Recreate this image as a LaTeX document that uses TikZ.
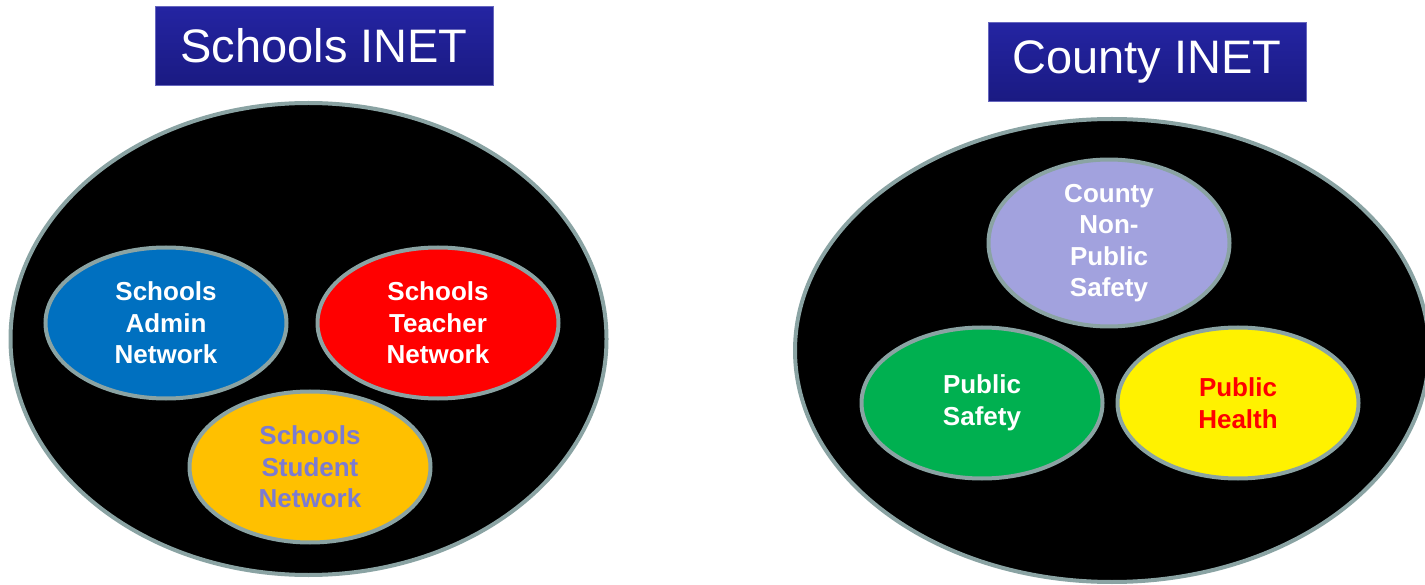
\documentclass[tikz,border=0pt]{standalone}
\usepackage{fontspec}
\setmainfont{Liberation Sans}
\usetikzlibrary{shapes.geometric}
\definecolor{rim}{HTML}{8AA3A3}
\definecolor{titletop}{HTML}{2424A2}
\definecolor{titlebot}{HTML}{1A1A82}
\definecolor{adminblue}{HTML}{0070C0}
\definecolor{studentgold}{HTML}{FFC000}
\definecolor{studenttext}{HTML}{7B7BD2}
\definecolor{lavender}{HTML}{A2A2DE}
\definecolor{safegreen}{HTML}{00B050}
\tikzset{
  outer/.style={ellipse, draw=rim, line width=4pt, fill=black, inner sep=0pt},
  inner/.style={ellipse, draw=rim, line width=4pt, inner sep=0pt,
    minimum width=241pt, minimum height=151pt, align=center,
    font=\fontsize{26}{31.5}\selectfont\bfseries},
  titlebox/.style={rectangle, draw=titletop!70!white, line width=0.8pt,
    top color=titletop, bottom color=titlebot, text=white, inner sep=0pt,
    font=\fontsize{47}{50}\selectfont}
}
\begin{document}
\begin{tikzpicture}[x=1pt,y=-1pt]
\useasboundingbox (0,0) rectangle (1425,585);
\clip (0,0) rectangle (1425,585);
% titles
\node[titlebox, minimum width=338pt, minimum height=79pt] (t1) at (324,46) {Schools INET};
\node[titlebox, minimum width=318pt, minimum height=79pt] (t2) at (1147,62) {County INET};
% outer ellipses
\node[outer, minimum width=596pt, minimum height=472pt] (schools) at (308.5,339) {};
\node[outer, minimum width=634pt, minimum height=463pt] (county) at (1112,350.5) {};
% schools
\node[inner, fill=adminblue, text=white] (admin) at (166,323) {Schools\\Admin\\Network};
\node[inner, fill=red, text=white] (teacher) at (438,323) {Schools\\Teacher\\Network};
\node[inner, fill=studentgold, text=studenttext] (student) at (310,467) {Schools\\Student\\Network};
% county
\node[inner, fill=lavender, text=white] (nonps) at (1109,243) {County\\Non-\\Public\\Safety};
\node[inner, fill=safegreen, text=white] (ps) at (982,403) {Public\\Safety};
\node[inner, fill=yellow, text=red] (ph) at (1238,403) {Public\\Health};
\end{tikzpicture}
\end{document}
